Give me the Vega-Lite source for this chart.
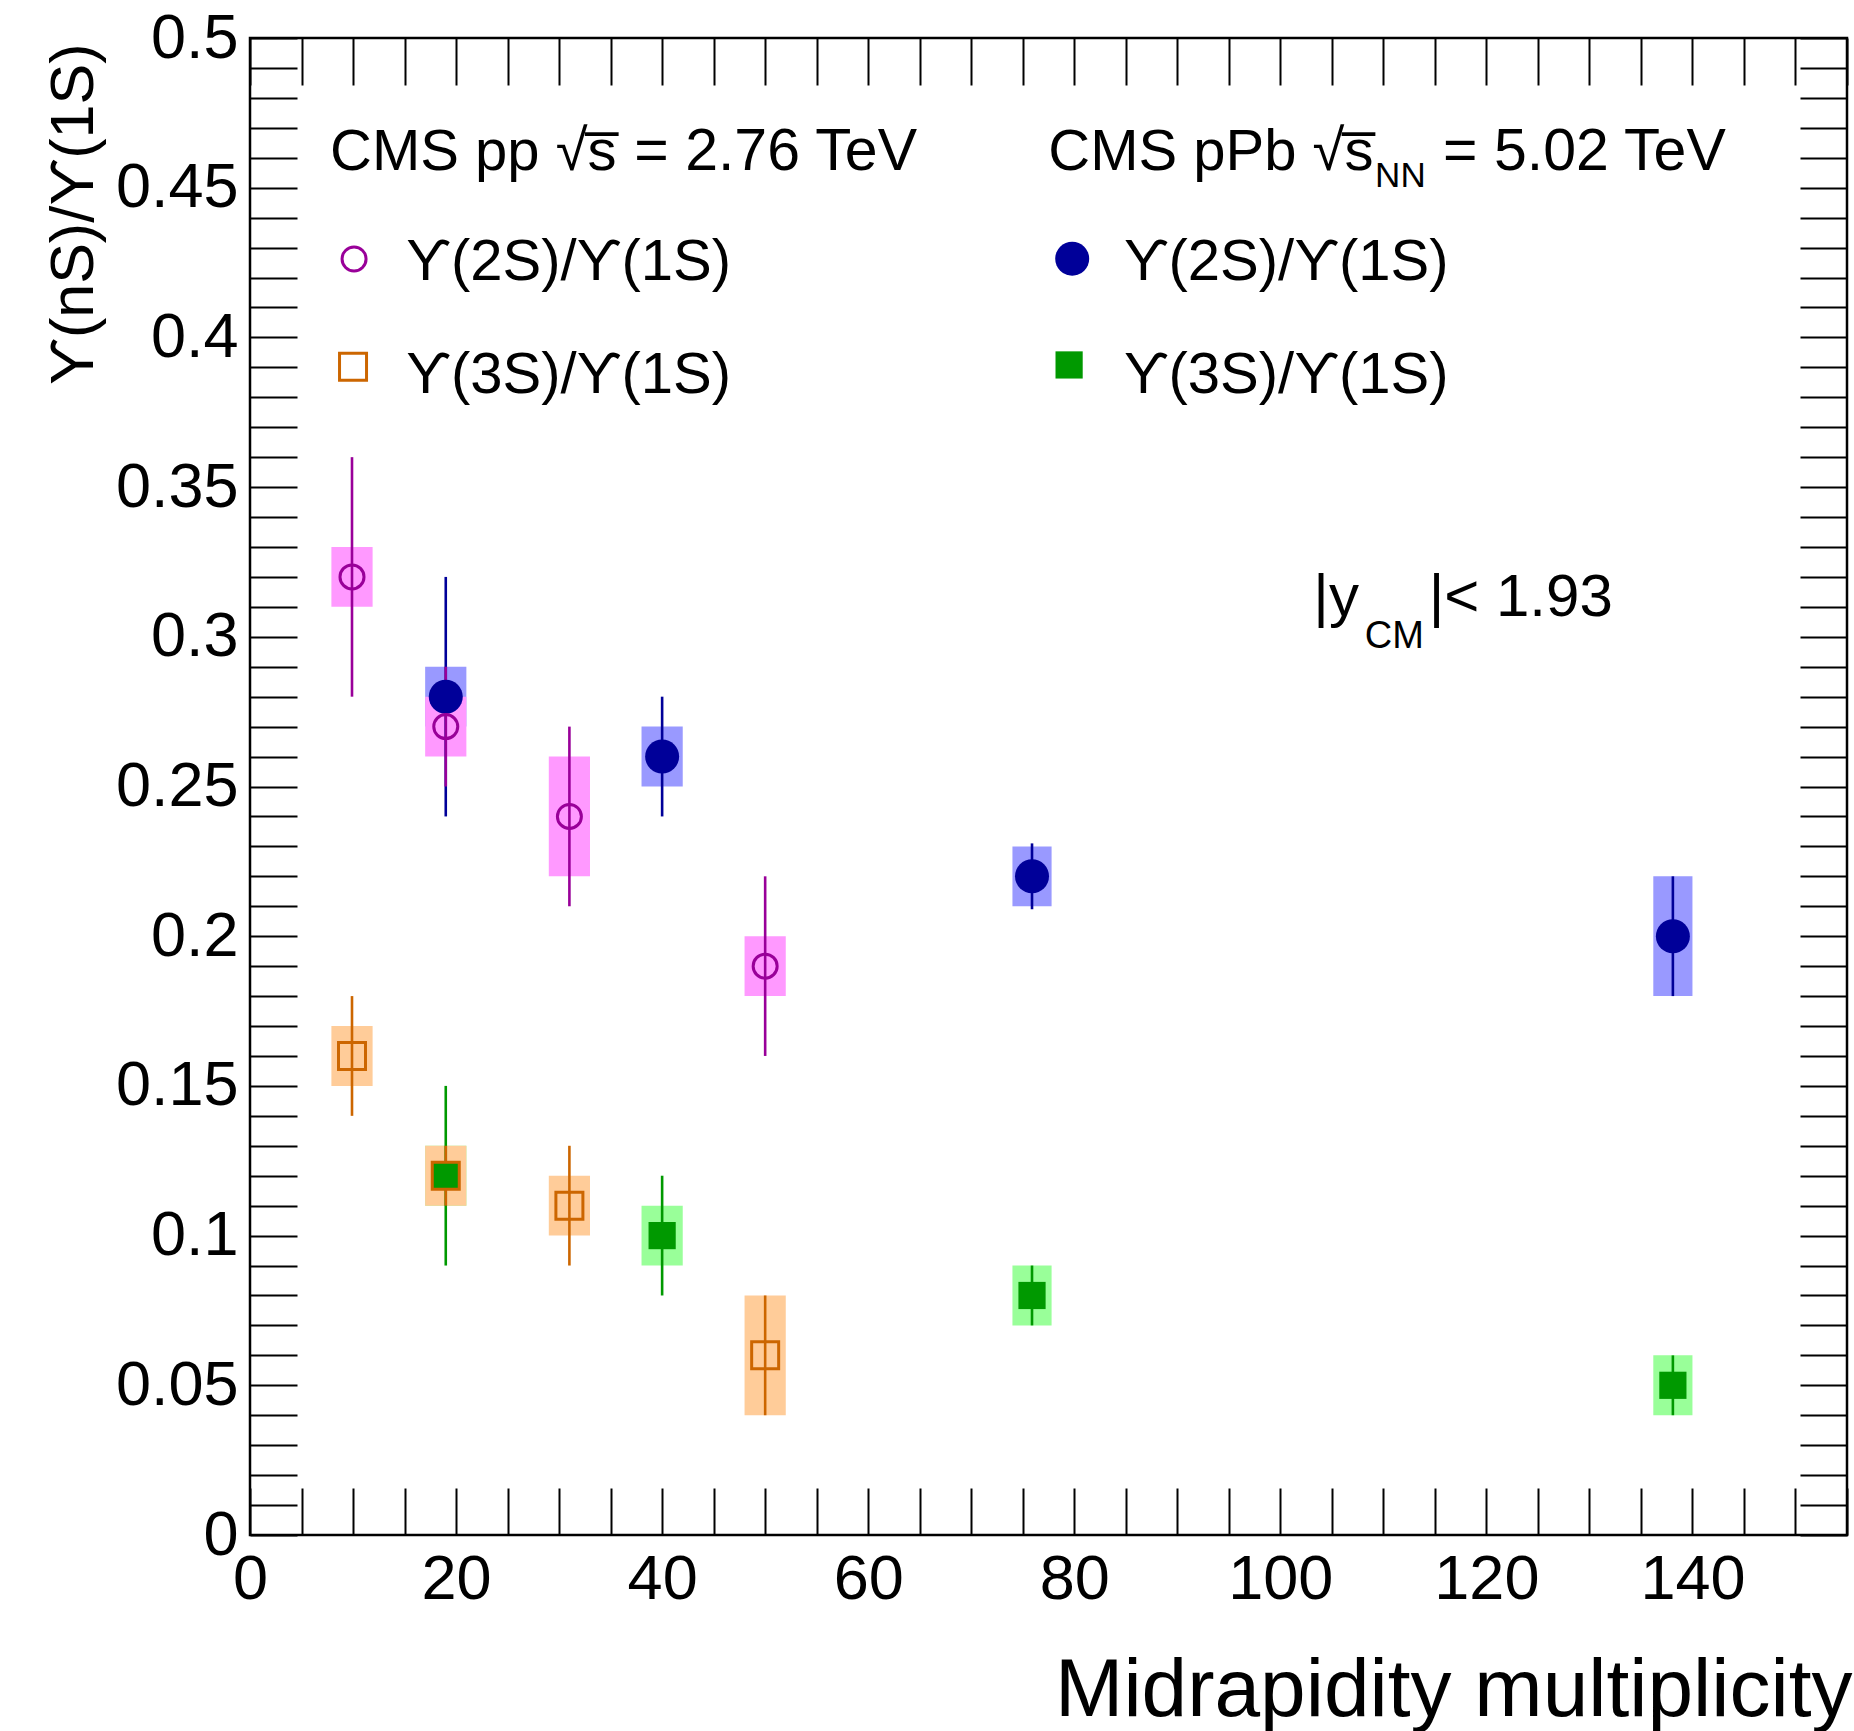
{
  "$schema": "https://vega.github.io/schema/vega-lite/v6.json",
  "width": 1597,
  "height": 1497,
  "autosize": {"type": "none"},
  "padding": {"left": 250, "top": 38, "right": 7, "bottom": 196},
  "background": "white",
  "config": {
    "view": {"stroke": "black", "strokeWidth": 2.5},
    "font": "Liberation Sans",
    "text": {"font": "Liberation Sans", "color": "black", "align": "left", "baseline": "alphabetic"},
    "axis": {"tickColor": "black", "tickWidth": 2, "domain": false, "grid": false, "labelColor": "black", "labelFont": "Liberation Sans", "titleFont": "Liberation Sans", "titleColor": "black", "titleFontWeight": "normal", "labelOverlap": false, "labelBound": false, "labelFlush": false}
  },
  "datasets": {
    "pts": [
      {"ser": "pPb2S", "x": 19, "y": 0.28, "slo": 0.24, "shi": 0.32, "blo": 0.27, "bhi": 0.29, "xlo": 17, "xhi": 21},
      {"ser": "pPb2S", "x": 40, "y": 0.26, "slo": 0.24, "shi": 0.28, "blo": 0.25, "bhi": 0.27, "xlo": 38, "xhi": 42},
      {"ser": "pPb2S", "x": 75.9, "y": 0.22, "slo": 0.209, "shi": 0.231, "blo": 0.21, "bhi": 0.23, "xlo": 74, "xhi": 77.8},
      {"ser": "pPb2S", "x": 138.1, "y": 0.2, "slo": 0.18, "shi": 0.22, "blo": 0.18, "bhi": 0.22, "xlo": 136.2, "xhi": 140},
      {"ser": "pPb3S", "x": 19, "y": 0.12, "slo": 0.09, "shi": 0.15, "blo": 0.11, "bhi": 0.13, "xlo": 17, "xhi": 21},
      {"ser": "pPb3S", "x": 40, "y": 0.1, "slo": 0.08, "shi": 0.12, "blo": 0.09, "bhi": 0.11, "xlo": 38, "xhi": 42},
      {"ser": "pPb3S", "x": 75.9, "y": 0.08, "slo": 0.07, "shi": 0.09, "blo": 0.07, "bhi": 0.09, "xlo": 74, "xhi": 77.8},
      {"ser": "pPb3S", "x": 138.1, "y": 0.05, "slo": 0.04, "shi": 0.06, "blo": 0.04, "bhi": 0.06, "xlo": 136.2, "xhi": 140},
      {"ser": "pp2S", "x": 9.9, "y": 0.32, "slo": 0.28, "shi": 0.36, "blo": 0.31, "bhi": 0.33, "xlo": 7.9, "xhi": 11.9},
      {"ser": "pp2S", "x": 19, "y": 0.27, "slo": 0.25, "shi": 0.29, "blo": 0.26, "bhi": 0.28, "xlo": 17, "xhi": 21},
      {"ser": "pp2S", "x": 31, "y": 0.24, "slo": 0.21, "shi": 0.27, "blo": 0.22, "bhi": 0.26, "xlo": 29, "xhi": 33},
      {"ser": "pp2S", "x": 50, "y": 0.19, "slo": 0.16, "shi": 0.22, "blo": 0.18, "bhi": 0.2, "xlo": 48, "xhi": 52},
      {"ser": "pp3S", "x": 9.9, "y": 0.16, "slo": 0.14, "shi": 0.18, "blo": 0.15, "bhi": 0.17, "xlo": 7.9, "xhi": 11.9},
      {"ser": "pp3S", "x": 19, "y": 0.12, "slo": 0.11, "shi": 0.13, "blo": 0.11, "bhi": 0.13, "xlo": 17, "xhi": 21},
      {"ser": "pp3S", "x": 31, "y": 0.11, "slo": 0.09, "shi": 0.13, "blo": 0.1, "bhi": 0.12, "xlo": 29, "xhi": 33},
      {"ser": "pp3S", "x": 50, "y": 0.06, "slo": 0.04, "shi": 0.08, "blo": 0.04, "bhi": 0.08, "xlo": 48, "xhi": 52}
    ],
    "one": [{}]
  },
  "data": {"name": "pts"},
  "layer": [
    {
      "mark": {"type": "rect", "opacity": 1},
      "encoding": {
        "x": {"field": "xlo", "type": "quantitative", "scale": {"domain": [0, 155], "nice": false, "zero": false},
          "axis": {"orient": "bottom", "values": [0,5,10,15,20,25,30,35,40,45,50,55,60,65,70,75,80,85,90,95,100,105,110,115,120,125,130,135,140,145,150,155],
            "tickSize": -47, "labelPadding": 60, "labelFontSize": 63, "labelBaseline": "top", "labelAlign": "center", "format": "d",
            "labelExpr": "datum.value % 20 === 0 ? datum.label : ''",
            "title": "Midrapidity multiplicity", "titleFontSize": 82, "titleX": 1602, "titleY": 180, "titleAlign": "right", "titleBaseline": "alphabetic", "titleAnchor": "end",
            "encode": {"ticks": {"update": {"y2": {"signal": "datum.value % 20 === 0 ? -47 : -26"}}}}}},
        "x2": {"field": "xhi"},
        "y": {"field": "blo", "type": "quantitative", "scale": {"domain": [0, 0.5], "nice": false, "zero": false},
          "axis": {"orient": "left", "values": [0,0.01,0.02,0.03,0.04,0.05,0.06,0.07,0.08,0.09,0.1,0.11,0.12,0.13,0.14,0.15,0.16,0.17,0.18,0.19,0.2,0.21,0.22,0.23,0.24,0.25,0.26,0.27,0.28,0.29,0.3,0.31,0.32,0.33,0.34,0.35,0.36,0.37,0.38,0.39,0.4,0.41,0.42,0.43,0.44,0.45,0.46,0.47,0.48,0.49,0.5],
            "tickSize": -47, "labelPadding": 59, "labelFontSize": 63, "labelAlign": "right", "labelBaseline": "middle",
            "labelExpr": "round(datum.value*100) % 5 === 0 ? format(datum.value, '~g') : ''",
            "title": "\u03d2(nS)/\u03d2(1S)", "titleFontSize": 61, "titleX": -158, "titleY": 5, "titleAngle": 270, "titleAlign": "right", "titleBaseline": "alphabetic",
            "encode": {"ticks": {"update": {"x2": {"signal": "round(datum.value*100) % 5 === 0 ? 47 : 26"}}}}}},
        "y2": {"field": "bhi"},
        "fill": {"field": "ser", "type": "nominal", "legend": null,
          "scale": {"domain": ["pPb2S", "pPb3S", "pp2S", "pp3S"], "range": ["#9999ff", "#99ff99", "#ff99ff", "#ffcc99"]}}
      }
    },
    {
      "mark": {"type": "rule", "strokeWidth": 2.6},
      "encoding": {
        "x": {"field": "x", "type": "quantitative",
          "axis": {"orient": "top", "values": [0,5,10,15,20,25,30,35,40,45,50,55,60,65,70,75,80,85,90,95,100,105,110,115,120,125,130,135,140,145,150,155],
            "tickSize": -47, "labels": false, "title": null,
            "encode": {"ticks": {"update": {"y2": {"signal": "datum.value % 20 === 0 ? 47 : 26"}}}}}},
        "y": {"field": "slo", "type": "quantitative",
          "axis": {"orient": "right", "values": [0,0.01,0.02,0.03,0.04,0.05,0.06,0.07,0.08,0.09,0.1,0.11,0.12,0.13,0.14,0.15,0.16,0.17,0.18,0.19,0.2,0.21,0.22,0.23,0.24,0.25,0.26,0.27,0.28,0.29,0.3,0.31,0.32,0.33,0.34,0.35,0.36,0.37,0.38,0.39,0.4,0.41,0.42,0.43,0.44,0.45,0.46,0.47,0.48,0.49,0.5],
            "tickSize": -47, "labels": false, "title": null,
            "encode": {"ticks": {"update": {"x2": {"signal": "round(datum.value*100) % 5 === 0 ? -47 : -26"}}}}}},
        "y2": {"field": "shi"},
        "stroke": {"field": "ser", "type": "nominal", "legend": null,
          "scale": {"domain": ["pPb2S", "pPb3S", "pp2S", "pp3S"], "range": ["#000099", "#009900", "#990099", "#cc6600"]}}
      }
    },
    {
      "transform": [{"filter": "datum.ser === 'pPb2S'"}],
      "mark": {"type": "point", "shape": "circle", "filled": true, "fill": "#000099", "size": 1156, "opacity": 1},
      "encoding": {"x": {"field": "x", "type": "quantitative", "axis": null}, "y": {"field": "y", "type": "quantitative", "axis": null}}
    },
    {
      "transform": [{"filter": "datum.ser === 'pPb3S'"}],
      "mark": {"type": "point", "shape": "square", "filled": true, "fill": "#009900", "size": 740, "opacity": 1},
      "encoding": {"x": {"field": "x", "type": "quantitative", "axis": null}, "y": {"field": "y", "type": "quantitative", "axis": null}}
    },
    {
      "transform": [{"filter": "datum.ser === 'pp2S'"}],
      "mark": {"type": "point", "shape": "circle", "filled": false, "stroke": "#990099", "strokeWidth": 3, "size": 576, "opacity": 1},
      "encoding": {"x": {"field": "x", "type": "quantitative", "axis": null}, "y": {"field": "y", "type": "quantitative", "axis": null}}
    },
    {
      "transform": [{"filter": "datum.ser === 'pp3S'"}],
      "mark": {"type": "point", "shape": "square", "filled": false, "stroke": "#cc6600", "strokeWidth": 3, "size": 729, "opacity": 1},
      "encoding": {"x": {"field": "x", "type": "quantitative", "axis": null}, "y": {"field": "y", "type": "quantitative", "axis": null}}
    },
    {
      "data": {"name": "one"},
      "mark": {"type": "point", "shape": "circle", "filled": false, "stroke": "#990099", "strokeWidth": 3, "size": 576, "opacity": 1},
      "encoding": {"x": {"datum": 10.1, "type": "quantitative", "axis": null}, "y": {"datum": 0.4262, "type": "quantitative", "axis": null}}
    },
    {
      "data": {"name": "one"},
      "mark": {"type": "point", "shape": "square", "filled": false, "stroke": "#cc6600", "strokeWidth": 3, "size": 729, "opacity": 1},
      "encoding": {"x": {"datum": 10.0, "type": "quantitative", "axis": null}, "y": {"datum": 0.3902, "type": "quantitative", "axis": null}}
    },
    {
      "data": {"name": "one"},
      "mark": {"type": "point", "shape": "circle", "filled": true, "fill": "#000099", "size": 1156, "opacity": 1},
      "encoding": {"x": {"datum": 79.8, "type": "quantitative", "axis": null}, "y": {"datum": 0.4263, "type": "quantitative", "axis": null}}
    },
    {
      "data": {"name": "one"},
      "mark": {"type": "point", "shape": "square", "filled": true, "fill": "#009900", "size": 740, "opacity": 1},
      "encoding": {"x": {"datum": 79.5, "type": "quantitative", "axis": null}, "y": {"datum": 0.3908, "type": "quantitative", "axis": null}}
    },
    {
      "data": {"name": "one"},
      "mark": {"type": "text", "text": "CMS pp \u221as\u0305", "fontSize": 58},
      "encoding": {"x": {"datum": 7.77, "type": "quantitative", "axis": null}, "y": {"datum": 0.4559, "type": "quantitative", "axis": null}}
    },
    {
      "data": {"name": "one"},
      "mark": {"type": "text", "text": "= 2.76 TeV", "fontSize": 59},
      "encoding": {"x": {"datum": 37.3, "type": "quantitative", "axis": null}, "y": {"datum": 0.4559, "type": "quantitative", "axis": null}}
    },
    {
      "data": {"name": "one"},
      "mark": {"type": "text", "text": "CMS pPb \u221as\u0305", "fontSize": 58},
      "encoding": {"x": {"datum": 77.48, "type": "quantitative", "axis": null}, "y": {"datum": 0.4559, "type": "quantitative", "axis": null}}
    },
    {
      "data": {"name": "one"},
      "mark": {"type": "text", "text": "NN", "fontSize": 35},
      "encoding": {"x": {"datum": 109.2, "type": "quantitative", "axis": null}, "y": {"datum": 0.4503, "type": "quantitative", "axis": null}}
    },
    {
      "data": {"name": "one"},
      "mark": {"type": "text", "text": "= 5.02 TeV", "fontSize": 59},
      "encoding": {"x": {"datum": 115.8, "type": "quantitative", "axis": null}, "y": {"datum": 0.4559, "type": "quantitative", "axis": null}}
    },
    {
      "data": {"name": "one"},
      "mark": {"type": "text", "text": "\u03d2(2S)/\u03d2(1S)", "fontSize": 58},
      "encoding": {"x": {"datum": 15.15, "type": "quantitative", "axis": null}, "y": {"datum": 0.4192, "type": "quantitative", "axis": null}}
    },
    {
      "data": {"name": "one"},
      "mark": {"type": "text", "text": "\u03d2(3S)/\u03d2(1S)", "fontSize": 58},
      "encoding": {"x": {"datum": 15.15, "type": "quantitative", "axis": null}, "y": {"datum": 0.3814, "type": "quantitative", "axis": null}}
    },
    {
      "data": {"name": "one"},
      "mark": {"type": "text", "text": "\u03d2(2S)/\u03d2(1S)", "fontSize": 58},
      "encoding": {"x": {"datum": 84.8, "type": "quantitative", "axis": null}, "y": {"datum": 0.4192, "type": "quantitative", "axis": null}}
    },
    {
      "data": {"name": "one"},
      "mark": {"type": "text", "text": "\u03d2(3S)/\u03d2(1S)", "fontSize": 58},
      "encoding": {"x": {"datum": 84.8, "type": "quantitative", "axis": null}, "y": {"datum": 0.3814, "type": "quantitative", "axis": null}}
    },
    {
      "data": {"name": "one"},
      "mark": {"type": "text", "text": "|y", "fontSize": 60},
      "encoding": {"x": {"datum": 103.2, "type": "quantitative", "axis": null}, "y": {"datum": 0.3069, "type": "quantitative", "axis": null}}
    },
    {
      "data": {"name": "one"},
      "mark": {"type": "text", "text": "CM", "fontSize": 38},
      "encoding": {"x": {"datum": 108.2, "type": "quantitative", "axis": null}, "y": {"datum": 0.2963, "type": "quantitative", "axis": null}}
    },
    {
      "data": {"name": "one"},
      "mark": {"type": "text", "text": "|< 1.93", "fontSize": 60},
      "encoding": {"x": {"datum": 114.4, "type": "quantitative", "axis": null}, "y": {"datum": 0.3069, "type": "quantitative", "axis": null}}
    }
  ],
  "resolve": {"axis": {"x": "independent", "y": "independent"}}
}
